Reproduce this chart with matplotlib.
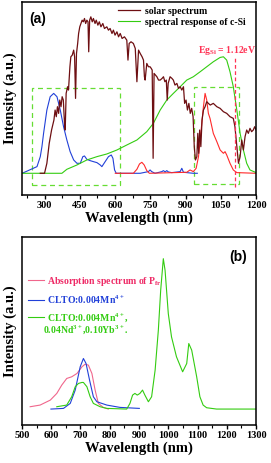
import matplotlib
matplotlib.use("Agg")
import matplotlib.pyplot as plt
from matplotlib.patches import Rectangle
from matplotlib.ticker import MultipleLocator

plt.rcParams["font.family"] = ["Liberation Serif", "DejaVu Serif"]
plt.rcParams["font.weight"] = "bold"
plt.rcParams["mathtext.fontset"] = "custom"
plt.rcParams["mathtext.rm"] = "Liberation Serif:bold"
plt.rcParams["mathtext.it"] = "Liberation Serif:bold"
plt.rcParams["mathtext.bf"] = "Liberation Serif:bold"

# (a) solar spectrum
solar_wl = [282, 300, 310, 320, 330, 340, 345, 350, 355, 360, 365, 370, 375, 380,
            385, 388, 392, 398, 402, 408, 412, 418, 424, 428, 432, 436, 441, 445,
            450, 455, 460, 465, 470, 475, 480, 485, 488, 492, 497, 503, 508, 515,
            520, 527, 533, 540, 548, 555, 565, 572, 579, 587, 593, 600, 608, 615,
            622, 630, 640, 650, 655, 660, 668, 678, 686, 693, 700, 707, 715, 721,
            725, 728, 735, 742, 749, 754, 758, 762, 766, 772, 778, 785, 792, 800,
            806, 812, 818, 822, 826, 834, 842, 848, 855, 863, 870, 877, 884, 891,
            896, 902, 908, 914, 920, 926, 932, 937, 942, 948, 952, 956, 960, 965,
            970, 976, 983, 990, 997, 1005, 1018, 1033, 1047, 1061, 1075, 1089,
            1103, 1110, 1118, 1125, 1132, 1139, 1146, 1153, 1160, 1167, 1174,
            1181, 1188, 1194, 1200]
solar_int = [0.0, 0.0, 0.3, 0.9, 1.3, 1.6, 1.9, 1.7, 2.0, 1.8, 2.2, 2.0, 2.3, 2.2,
             1.5, 1.3, 2.4, 2.6, 2.5, 3.2, 3.5, 3.55, 3.7, 3.5, 2.25, 3.6, 3.9, 4.2,
             4.4, 4.5, 4.6, 4.55, 4.65, 4.5, 4.6, 4.55, 3.65, 4.6, 4.7, 4.55, 4.65, 4.5,
             4.6, 4.45, 4.55, 4.4, 4.5, 4.35, 4.4, 4.3, 4.35, 4.2, 4.3, 4.15, 4.25, 4.1,
             4.2, 4.05, 4.1, 4.0, 3.4, 3.9, 3.95, 3.9, 3.75, 2.75, 3.7, 3.6, 3.5, 3.4,
             2.9, 2.8, 3.3, 3.2, 3.2, 3.15, 3.1, 0.45, 3.0, 2.95, 2.9, 2.8, 2.8, 2.85,
             2.9, 2.75, 2.8, 2.2, 2.7, 2.9, 2.85, 2.8, 2.65, 2.7, 2.55, 2.6, 2.5, 2.6,
             2.1, 2.2, 1.9, 2.1, 1.8, 1.95, 1.7, 0.8, 0.4, 0.5, 1.2, 0.6, 1.3, 0.8,
             1.6, 1.9, 2.0, 2.15, 2.1, 2.05, 2.1, 2.0, 1.95, 1.85, 1.8, 1.7,
             1.65, 1.4, 0.8, 0.3, 0.5, 1.0, 0.7, 1.1, 1.3, 1.2, 1.35,
             1.25, 1.3, 1.4, 1.3]

# (a) c-Si spectral response
si_wl = [205, 282, 374, 395, 438, 480, 523, 565, 608, 650, 693, 735, 763, 792, 820,
         848, 877, 905, 933, 962, 990, 1018, 1047, 1061, 1075, 1089, 1103, 1118,
         1132, 1146, 1160, 1174, 1200]
si_int = [0, 0, 0, 0.12, 0.25, 0.4, 0.5, 0.58, 0.7, 0.85, 1.0, 1.25, 1.5, 1.9, 2.2,
          2.4, 2.6, 2.8, 2.9, 3.05, 3.2, 3.35, 3.48, 3.5, 3.4, 3.05, 2.6, 1.9,
          1.2, 0.7, 0.3, 0.1, 0.02]

# (a) blue emission
blue_a_wl = [205, 268, 282, 289, 296, 310, 324, 339, 346, 353, 367, 381, 395, 409,
             424, 438, 452, 463, 470, 480, 494, 508, 523, 537, 544, 558, 572, 584,
             591, 598, 605, 707, 742, 749, 756, 770, 799, 806, 813, 820, 827, 841,
             877, 884, 891, 933, 950]
blue_a_int = [0, 0.2, 0.5, 0.8, 1.2, 1.9, 2.3, 2.4, 2.35, 2.3, 1.9, 1.4, 1.0, 0.65,
              0.4, 0.3, 0.3, 0.5, 0.52, 0.42, 0.38, 0.35, 0.32, 0.25, 0.2, 0.35, 0.5, 0.55,
              0.45, 0.1, 0, 0, 0.05, 0.1, 0.05, 0, 0.05, 0.08, 0.04, 0.08, 0.04, 0.02,
              0.05, 0.15, 0.03, 0, 0]

# (a) red emission
red_a_wl = [601, 678, 693, 704, 714, 724, 735, 746, 905, 919, 933, 945, 955, 962,
            969, 976, 983, 990, 997, 1004, 1018, 1033, 1047, 1061, 1068, 1075, 1089,
            1103, 1118, 1200]
red_a_int = [0, 0, 0.12, 0.28, 0.33, 0.25, 0.08, 0, 0.03, 0.1, 0.05, 0.15, 0.5, 1.0,
             1.5, 2.0, 2.4, 2.2, 1.8, 1.65, 1.2, 0.95, 0.7, 0.6, 0.65, 0.55, 0.3,
             0.1, 0.02, 0]

eg_si = 1110  # nm, 1.12 eV

# (b) absorption of Pfr
pfr_wl = [528, 562, 597, 619, 636, 653, 670, 688, 705, 716, 727, 739, 750, 761, 778, 795]
pfr_int = [0.07, 0.12, 0.27, 0.47, 0.72, 0.92, 0.97, 1.07, 1.27, 1.35, 1.32, 1.07,
           0.57, 0.17, 0.05, 0.0]

# (b) CLTO:0.004Mn4+
mn_wl = [599, 642, 665, 682, 699, 710, 719, 731, 744, 756, 790, 835, 901]
mn_int = [0.0, 0.02, 0.17, 0.57, 1.27, 1.52, 1.37, 0.87, 0.37, 0.22, 0.12, 0.05, 0.02]

# (b) CLTO:0.004Mn4+,0.04Nd3+,0.10Yb3+
co_wl = [619, 653, 670, 682, 693, 705, 710, 722, 733, 744, 767, 790, 858, 869, 878,
         886, 894, 903, 912, 920, 932, 943, 955, 966, 974, 983, 989, 1000, 1011,
         1028, 1049, 1063, 1070, 1080, 1097, 1108, 1119, 1131, 1165, 1300]
co_int = [0.07, 0.12, 0.37, 0.67, 0.77, 0.8, 0.8, 0.67, 0.37, 0.17, 0.07, 0.02, 0.0,
          0.17, 0.42, 0.47, 0.42, 0.47, 0.57, 0.42, 0.22, 0.37, 1.17, 2.37, 3.57,
          4.52, 4.17, 2.87, 2.17, 1.57, 1.12, 1.37, 1.97, 1.77, 0.97, 0.37, 0.12,
          0.04, 0.0, 0.0]

maroon = "#6e0f12"
green = "#33cc11"
blue = "#2140d8"
red = "#ff2a2a"
pink = "#f0668c"

fig = plt.figure(figsize=(2.71, 4.63), dpi=100)
ax1 = fig.add_axes([0.081, 0.579, 0.864, 0.417])
ax2 = fig.add_axes([0.081, 0.082, 0.864, 0.406])

# ---- panel (a)
ax1.plot(blue_a_wl, blue_a_int, color=blue, lw=0.8)
ax1.plot(red_a_wl, red_a_int, color=red, lw=0.8)
ax1.plot(si_wl, si_int, color=green, lw=0.8, label="spectral response of c-Si")
ax1.plot(solar_wl, solar_int, color=maroon, lw=0.9, label="solar spectrum")
ax1.add_patch(Rectangle((246, -0.36), 373, 2.91, fill=False, ec="#66dd33",
                        ls=(0, (4, 3)), lw=0.9))
ax1.add_patch(Rectangle((936, -0.32), 193, 2.9, fill=False, ec="#66dd33",
                        ls=(0, (4, 3)), lw=0.9))
ax1.plot([eg_si, eg_si], [-0.4, 3.45], color="#ff3355", ls=(0, (3, 2)), lw=0.9)
ax1.text(955, 3.62, "Eg$_{Si}$ = 1.12eV", color="#ff3355", fontsize=7,
         fontweight="bold")
ax1.text(0.03, 0.95, "(a)", transform=ax1.transAxes, fontsize=10,
         fontweight="bold", family="Liberation Sans", va="top")
h, l = ax1.get_legend_handles_labels()
ax1.legend(h[::-1], l[::-1], loc="upper left", bbox_to_anchor=(0.38, 1.01),
           frameon=False, fontsize=7, handlelength=2.3, handletextpad=0.5,
           labelspacing=0.2, borderaxespad=0.3)
ax1.set_xlim(204, 1200)
ax1.set_ylim(-0.65, 5.15)
ax1.xaxis.set_major_locator(MultipleLocator(150))
ax1.xaxis.set_minor_locator(MultipleLocator(75))
ax1.set_xticks([300, 450, 600, 750, 900, 1050, 1200])

# ---- panel (b)
ax2.plot(pfr_wl, pfr_int, color=pink, lw=0.8, label="Absorption spectrum of P$_{fr}$")
ax2.plot(mn_wl, mn_int, color=blue, lw=0.8, label="CLTO:0.004Mn$^{4+}$")
ax2.plot(co_wl, co_int, color=green, lw=0.8, label="CLTO:0.004Mn$^{4+}$,")
leg = ax2.legend(loc="upper left", bbox_to_anchor=(0.0, 0.83), frameon=False,
                 fontsize=7, handlelength=1.7, handletextpad=0.3, labelspacing=0.55,
                 labelcolor="linecolor", borderaxespad=0.2)
leg.get_texts()[0].set_color("#ee2a66")
ax2.text(0.09, 0.508, "0.04Nd$^{3+}$,0.10Yb$^{3+}$.", transform=ax2.transAxes,
         color=green, fontsize=7, fontweight="bold", va="center")
ax2.text(0.96, 0.93, "(b)", transform=ax2.transAxes, fontsize=10,
         fontweight="bold", family="Liberation Sans", va="top", ha="right")
ax2.set_xlim(500, 1300)
ax2.set_ylim(-0.48, 5.17)
ax2.xaxis.set_major_locator(MultipleLocator(100))
ax2.xaxis.set_minor_locator(MultipleLocator(50))

for ax in (ax1, ax2):
    ax.set_yticks([])
    ax.tick_params(axis="x", which="major", direction="out", length=3, width=1,
                   labelsize=7.5, pad=1.5)
    ax.tick_params(axis="x", which="minor", direction="out", length=2, width=0.8)
    for lab in ax.get_xticklabels():
        lab.set_fontweight("bold")
    for s in ax.spines.values():
        s.set_linewidth(1.1)
    ax.set_xlabel("Wavelength (nm)", fontsize=10.5, fontweight="bold", labelpad=1)
    ax.set_ylabel("Intensity (a.u.)", fontsize=10.5, fontweight="bold")
    ax.yaxis.set_label_coords(-0.02, 0.5)

fig.savefig("out.png", dpi=100)
